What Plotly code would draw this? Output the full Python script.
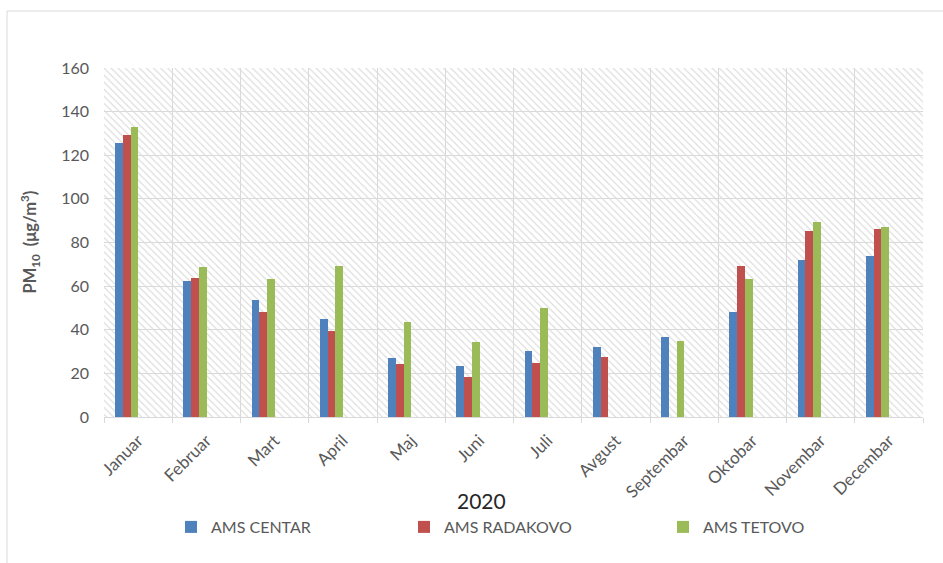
import plotly.graph_objects as go

# Monthly mean PM10 concentrations, 2020
months = ["Januar", "Februar", "Mart", "April", "Maj", "Juni",
          "Juli", "Avgust", "Septembar", "Oktobar", "Novembar", "Decembar"]
ams_centar = [125.5, 62.5, 53.7, 45.0, 27.2, 23.4, 30.4, 32.3, 36.8, 48.0, 72.0, 73.9]
ams_radakovo = [129.3, 63.6, 48.0, 39.4, 24.2, 18.5, 24.6, 27.7, None, 69.4, 85.3, 86.1]
ams_tetovo = [133.1, 68.9, 63.1, 69.4, 43.7, 34.3, 49.9, None, 34.9, 63.1, 89.6, 87.3]
y_ticks = [0, 20, 40, 60, 80, 100, 120, 140, 160]

series = [
    ("AMS CENTAR", ams_centar, "#4f81bd"),
    ("AMS RADAKOVO", ams_radakovo, "#c0504d"),
    ("AMS TETOVO", ams_tetovo, "#9bbb59"),
]

W, H = 943, 563
ML, MR, MT, MB = 104, 20, 68, 146
PW, PH = W - ML - MR, H - MT - MB
FONT = "Lato"
GREY_TXT = "#595959"
GRID = "#d9d9d9"


def px_x(px):
    return (px - ML) / PW


def px_y(py):
    return (H - MB - py) / PH


fig = go.Figure()

# diagonal hatching across the plotting area
fig.add_trace(go.Bar(
    x=months, y=[y_ticks[-1]] * len(months), width=1, offset=-0.5,
    marker=dict(color="rgba(0,0,0,0)", line=dict(width=0),
                pattern=dict(shape="\\", fgcolor="#dcdcdc", size=5,
                             solidity=0.22, fillmode="replace")),
    showlegend=False, hoverinfo="skip",
))

bar_w = 0.113
start = -0.337
legend_ids = ["legend", "legend2", "legend3"]
for i, (name, vals, col) in enumerate(series):
    fig.add_trace(go.Bar(
        x=months, y=vals, name=name, width=bar_w, offset=start + i * bar_w,
        marker=dict(color=col, line=dict(width=0)),
        legend=legend_ids[i],
    ))

legend_text_x = [213, 446, 705]
leg_common = dict(orientation="h", yanchor="middle", xanchor="left",
                  font=dict(family=FONT, size=16, color=GREY_TXT),
                  bgcolor="rgba(0,0,0,0)", itemwidth=30)
legends = {}
for key, tx in zip(legend_ids, legend_text_x):
    legends[key] = dict(leg_common, x=px_x(tx - 42), y=px_y(527))

fig.update_layout(
    width=W, height=H,
    margin=dict(l=ML, r=MR, t=MT, b=MB),
    paper_bgcolor="white", plot_bgcolor="white",
    barmode="overlay", bargap=0,
    font=dict(family=FONT, color=GREY_TXT),
    **legends,
    xaxis=dict(
        type="category", tickson="boundaries", showgrid=True, gridcolor=GRID,
        gridwidth=1, ticks="outside", ticklen=5, tickcolor=GRID,
        showline=True, linecolor=GRID, tickangle=-45,
        ticklabelstandoff=6,
        tickfont=dict(family=FONT, size=17, color=GREY_TXT),
        range=[-0.5, len(months) - 0.5],
    ),
    yaxis=dict(
        range=[0, y_ticks[-1]], tickvals=y_ticks, showgrid=True,
        gridcolor=GRID, gridwidth=1, zeroline=False, ticks="",
        ticklabelstandoff=14,
        tickfont=dict(family=FONT, size=16, color=GREY_TXT),
    ),
    annotations=[
        dict(text="2020", xref="paper", yref="paper", x=px_x(481), y=px_y(500),
             xanchor="center", yanchor="middle", showarrow=False,
             font=dict(family=FONT, size=21, color="#262626")),
        dict(text="<b>PM<sub>10</sub>  (μg/m<sup>3</sup>)</b>", xref="paper",
             yref="paper", x=px_x(30), y=0.5, xanchor="center",
             yanchor="middle", textangle=-90, showarrow=False,
             font=dict(family=FONT, size=16.5, color=GREY_TXT)),
    ],
    shapes=[
        dict(type="rect", xref="paper", yref="paper",
             x0=px_x(7), x1=px_x(W + 10), y0=px_y(H + 10), y1=px_y(11),
             line=dict(color=GRID, width=1), fillcolor="rgba(0,0,0,0)",
             layer="below"),
    ],
)

fig.write_html("out.html")
